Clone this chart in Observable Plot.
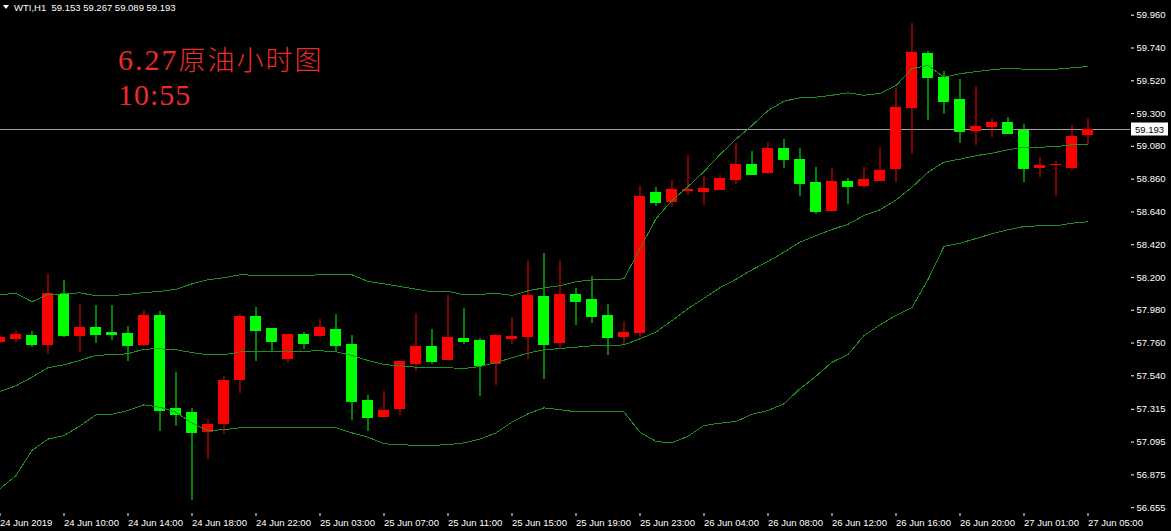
<!DOCTYPE html>
<html>
<head>
<meta charset="utf-8">
<script src="https://cdn.jsdelivr.net/npm/d3@7"></script>
<script src="https://cdn.jsdelivr.net/npm/@observablehq/plot@0.6"></script>
<style>
html, body { margin: 0; padding: 0; background: #000; }
#chart { width: 1171px; height: 531px; overflow: hidden; background: #000; }
</style>
</head>
<body>
<div id="chart"></div>
<script>
// ---- Data (WTI, H1; 24 Jun 2019 06:00 -> 27 Jun 2019 05:00) ----
const open = [57.763,57.784,57.810,57.743,58.086,57.804,57.864,57.831,57.824,57.743,
  57.945,57.321,57.294,57.159,57.213,57.508,57.938,57.857,57.649,57.817,
  57.804,57.851,57.750,57.374,57.260,57.314,57.616,57.737,57.643,57.790,
  57.777,57.616,57.784,57.797,58.072,57.757,58.086,58.052,57.945,57.797,
  57.824,58.770,58.703,58.777,58.770,58.784,58.851,58.958,58.898,59.065,
  58.992,58.837,58.643,58.844,58.810,58.844,58.925,59.334,59.703,59.542,
  59.394,59.180,59.206,59.240,59.186,58.931,58.951,58.931,59.153];
const high = [57.810,57.844,57.837,58.220,58.180,58.018,58.012,58.012,57.871,57.978,
  57.972,57.562,57.321,57.247,57.535,57.951,57.998,57.857,57.817,57.831,
  57.918,57.951,57.810,57.408,57.435,57.636,57.958,57.851,58.079,57.992,
  57.790,57.817,57.931,58.314,58.361,58.314,58.126,58.206,58.018,57.904,
  58.810,58.804,58.851,59.018,58.878,58.884,59.099,59.045,59.106,59.126,
  59.065,58.938,58.931,58.864,58.938,59.072,59.468,59.904,59.717,59.582,
  59.529,59.482,59.267,59.274,59.227,59.005,58.978,59.220,59.267];
const low = [57.757,57.763,57.730,57.683,57.797,57.696,57.757,57.777,57.636,57.737,
  57.166,57.200,56.703,56.978,57.146,57.421,57.636,57.703,57.623,57.717,
  57.797,57.703,57.240,57.166,57.260,57.274,57.569,57.616,57.643,57.750,
  57.401,57.475,57.750,57.649,57.515,57.717,57.878,57.891,57.676,57.743,
  57.797,58.676,58.670,58.750,58.683,58.784,58.824,58.884,58.891,58.931,
  58.743,58.623,58.643,58.690,58.797,58.844,58.837,59.025,59.253,59.294,
  59.099,59.086,59.139,59.166,58.837,58.871,58.743,58.918,59.089];
const close = [57.797,57.817,57.750,58.092,57.810,57.864,57.817,57.817,57.743,57.945,
  57.307,57.280,57.159,57.213,57.508,57.938,57.844,57.770,57.817,57.757,
  57.864,57.743,57.368,57.260,57.307,57.636,57.737,57.636,57.797,57.770,
  57.609,57.810,57.804,58.079,57.750,58.086,58.039,57.938,57.797,57.831,
  58.743,58.703,58.790,58.790,58.797,58.864,58.958,58.891,59.065,58.992,
  58.831,58.643,58.844,58.810,58.857,58.918,59.341,59.710,59.542,59.381,
  59.180,59.213,59.240,59.166,58.931,58.951,58.958,59.146,59.193];

// Bollinger bands
const bandUpper = [58.086,58.092,58.037,58.086,58.090,58.097,58.077,58.079,58.086,58.099,
  58.106,58.121,58.157,58.184,58.198,58.218,58.215,58.211,58.211,58.213,
  58.218,58.218,58.218,58.173,58.157,58.139,58.121,58.104,58.106,58.084,
  58.086,58.094,58.079,58.110,58.131,58.144,58.171,58.184,58.184,58.191,
  58.394,58.594,58.717,58.810,58.911,59.025,59.128,59.220,59.321,59.383,
  59.406,59.410,59.423,59.439,59.423,59.435,59.488,59.602,59.623,59.544,
  59.567,59.582,59.594,59.604,59.598,59.598,59.598,59.607,59.616];
const bandMiddle = [57.435,57.473,57.531,57.594,57.614,57.643,57.678,57.681,57.688,57.719,
  57.721,57.715,57.696,57.681,57.681,57.701,57.705,57.701,57.703,57.705,
  57.708,57.701,57.676,57.643,57.616,57.607,57.598,57.594,57.594,57.589,
  57.602,57.629,57.661,57.692,57.715,57.723,57.732,57.741,57.741,57.748,
  57.788,57.834,57.911,57.990,58.061,58.131,58.188,58.251,58.307,58.370,
  58.437,58.480,58.522,58.557,58.616,58.654,58.720,58.806,58.906,58.974,
  58.994,59.017,59.034,59.057,59.074,59.074,59.079,59.090,59.090];
const bandLower = [56.782,56.871,57.039,57.115,57.139,57.204,57.278,57.282,57.307,57.345,
  57.329,57.296,57.222,57.173,57.178,57.191,57.191,57.191,57.191,57.191,
  57.191,57.191,57.157,57.128,57.084,57.077,57.074,57.074,57.077,57.090,
  57.115,57.157,57.229,57.285,57.325,57.312,57.298,57.298,57.298,57.298,
  57.161,57.099,57.090,57.135,57.206,57.222,57.233,57.282,57.307,57.352,
  57.453,57.537,57.631,57.683,57.810,57.882,57.945,57.998,58.186,58.408,
  58.430,58.461,58.493,58.520,58.542,58.547,58.547,58.564,58.574];

const timeLabels = ["24 Jun 2019","24 Jun 10:00","24 Jun 14:00","24 Jun 18:00","24 Jun 22:00",
  "25 Jun 03:00","25 Jun 07:00","25 Jun 11:00","25 Jun 15:00","25 Jun 19:00","25 Jun 23:00",
  "26 Jun 04:00","26 Jun 08:00","26 Jun 12:00","26 Jun 16:00","26 Jun 20:00",
  "27 Jun 01:00","27 Jun 05:00"];
const timeLabelBars = [0,4,8,12,16,20,24,28,32,36,40,44,48,52,56,60,64,68];
const priceTicks = [59.960,59.740,59.520,59.300,59.080,58.860,58.640,58.420,58.200,
  57.980,57.760,57.540,57.315,57.095,56.875,56.655];
const lastPrice = 59.193;
const headerText = "WTI,H1  59.153 59.267 59.089 59.193";
const titleLine1a = "6.27";
const titleLine1b = "原油小时图";
const titleLine2 = "10:55";

// ---- Build ----
const bars = open.map((o, i) => ({
  i, open: o, high: high[i], low: low[i], close: close[i],
  dir: close[i] > o ? "up" : "down"
}));
const half = 0.34375; // half body width in bar units
const bandStyle = {x: (d, i) => i, y: d => d, stroke: "#1f8f1f", strokeWidth: 1, clip: true, shapeRendering: "crispEdges"};

const plot = Plot.plot({
  width: 1171,
  height: 531,
  marginLeft: 0,
  marginRight: 41,
  marginTop: 0,
  marginBottom: 18,
  style: {background: "#000", color: "#fff", fontFamily: "'Liberation Sans', Arial, sans-serif", fontSize: "9.5px"},
  x: {type: "linear", domain: [0.03125, 70.65625], label: null},
  y: {domain: [56.6158, 60.0588], label: null},
  color: {domain: ["up", "down"], range: ["#ff0000", "#00ff00"]},
  marks: [
    Plot.ruleY([lastPrice], {stroke: "#a0a0a0"}),
    Plot.ruleX(bars, {x: "i", y1: "low", y2: "high", stroke: "dir", clip: true}),
    Plot.rect(bars, {
      x1: d => d.i - half, x2: d => d.i + half,
      y1: d => Math.min(d.open, d.close), y2: d => Math.max(d.open, d.close),
      fill: "dir", clip: true, shapeRendering: "crispEdges"
    }),
    Plot.ruleY(bars, {x1: d => d.i - half, x2: d => d.i + half, y: "close", stroke: "dir", clip: true}),
    Plot.line(bandUpper, bandStyle),
    Plot.line(bandMiddle, bandStyle),
    Plot.line(bandLower, bandStyle),
    Plot.axisY({anchor: "right", ticks: priceTicks, tickFormat: d => d.toFixed(3), tickSize: 3, tickPadding: 3, line: true, fill: "#fff", label: null}),
    Plot.axisX({anchor: "bottom", ticks: timeLabelBars, tickFormat: v => timeLabels[timeLabelBars.indexOf(v)],
      tickSize: 3, tickPadding: 3, textAnchor: "start", line: true, fill: "#fff", label: null})
  ]
});
document.getElementById("chart").appendChild(plot);

// ---- Annotations ----
const svg = d3.select(plot);
const notes = svg.append("g").attr("text-anchor", "start");
// header
notes.append("path").attr("d", "M3,5L9,5L6,9Z").attr("fill", "#fff");
notes.append("text").attr("x", 14).attr("y", 10.5).attr("fill", "#fff")
  .style("font-family", "'Liberation Sans', Arial, sans-serif").style("font-size", "9.5px")
  .style("white-space", "pre").text(headerText);
// title
const serif = "'Liberation Serif', 'DejaVu Serif', serif";
const t1 = notes.append("text").attr("x", 118).attr("y", 70).attr("fill", "#ee2b2b");
t1.append("tspan").style("font-family", serif).style("font-size", "30px")
  .style("letter-spacing", "2px").text(titleLine1a);
t1.append("tspan").style("font-family", "'Noto Sans CJK SC', sans-serif").style("font-size", "27px")
  .style("font-weight", 300).style("letter-spacing", "2px").text(titleLine1b);
notes.append("text").attr("x", 118).attr("y", 105).attr("fill", "#ee2b2b")
  .style("font-family", serif).style("font-size", "30px")
  .style("letter-spacing", "1px").text(titleLine2);
// current price tag
const yp = plot.scale("y").apply(lastPrice);
notes.append("rect").attr("x", 1131).attr("y", yp - 6.5).attr("width", 37).attr("height", 13).attr("fill", "#fff");
notes.append("text").attr("x", 1135).attr("y", yp + 3.5).attr("fill", "#000")
  .style("font-family", "'Liberation Sans', Arial, sans-serif").style("font-size", "9.5px").text(lastPrice.toFixed(3));
</script>
</body>
</html>
